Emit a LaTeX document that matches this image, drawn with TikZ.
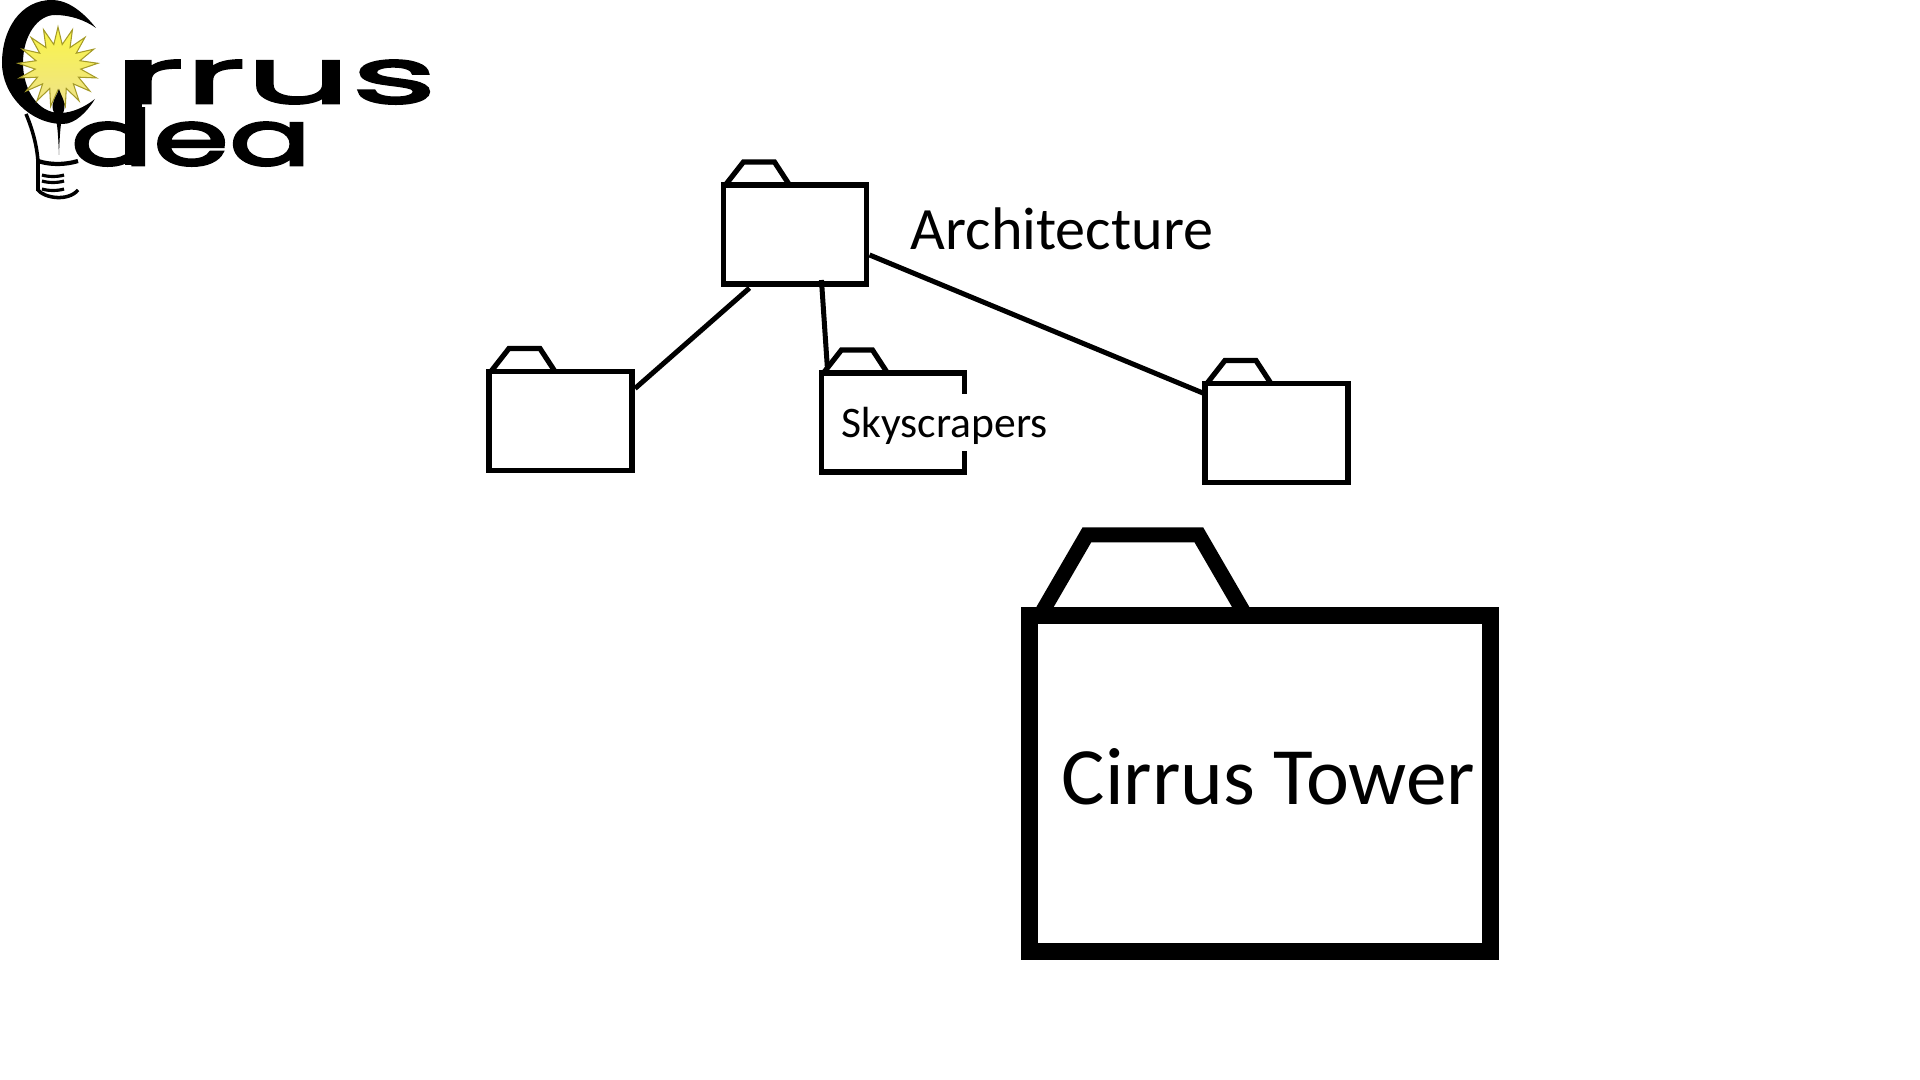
\documentclass[tikz,border=0pt]{standalone}
\usepackage{fontspec}
\setmainfont{Carlito}
\newfontfamily\logofont[FakeStretch=2.16,FakeBold=3.5]{Poppins}
\newfontfamily\logofontnarrow[FakeStretch=1.6,FakeBold=3.5]{Poppins}
\usetikzlibrary{shapes.geometric}
\definecolor{sunyellow}{RGB}{250,245,70}
\definecolor{suntan}{RGB}{238,226,140}
\definecolor{sunedge}{RGB}{165,155,40}
\tikzset{
    dirbox/.style={draw, line width=0.052cm, inner sep=0, outer sep=0, minimum width=1.43cm, minimum height=0.99cm},
    dirtab/.style={line width=0.052cm},
    dirlink/.style={line width=0.05cm},
    logotext/.style={anchor=base west, inner sep=0}
}
\begin{document}
\begin{tikzpicture}[x=0.01cm,y=-0.01cm]
    \useasboundingbox (0,0) rectangle (1920,1080);
    % logo
    \fill (96,28) .. controls (80,8) and (65,0) .. (52,0) .. controls (20,0) and (2,30) .. (2,63) .. controls (2,95) and (30,124) .. (63,124) .. controls (75,124) and (87,112) .. (95,99) .. controls (85,107) and (72,113) .. (60,113) .. controls (38,113) and (23,90) .. (23,63) .. controls (23,35) and (38,15) .. (55,15) .. controls (70,15) and (85,20) .. (96,28) -- cycle;
    \node (sun) [star, star points=17, star point ratio=1.75, minimum size=0.8cm, inner sep=0, draw=sunedge, line width=0.3pt, top color=sunyellow, bottom color=suntan] at (58,67) {};
    \fill (59,89) .. controls (62,98) and (66,102) .. (64,110) .. controls (62,118) and (60,122) .. (59,155) .. controls (58,130) and (57,118) .. (53,110) .. controls (51,102) and (56,98) .. (59,89) -- cycle;
    \draw [line width=1pt] (26,114) .. controls (32,128) and (37,145) .. (38,162);
    \draw [line width=1.2pt] (38,161) .. controls (50,165) and (65,165) .. (78,161);
    \draw [line width=1pt] (38,162) -- (38,190) .. controls (44,198) and (68,202) .. (78,190);
    \foreach \stripe in {175,181,189}
        \draw [line width=0.9pt] (42,\stripe) .. controls (48,\stripe+2) and (58,\stripe+2) .. (64,\stripe);
    \fill (125,60) rectangle (142,165);
    \node (logotop) [logotext, font=\logofont\fontsize{21.7}{22}\selectfont] at (122,103) {rrus};
    \node (logobottom) [logotext, font=\logofontnarrow\fontsize{21.7}{22}\selectfont] at (70,165) {dea};
    % folders
    \node (arch) [dirbox] at (795,234.5) {};
    \node (leftdir) [dirbox] at (560.5,421) {};
    \node (sky) [dirbox] at (893,422.5) {};
    \node (rightdir) [dirbox] at (1276.5,433) {};
    \foreach \dir in {arch,leftdir,sky,rightdir}
        \draw [dirtab] (\dir.north west) ++(2,0) -- ++(18,-23) -- ++(31,0) -- ++(15,23);
    \draw [dirlink] ([shift={(26,4)}]arch.south west) -- ([shift={(3,17)}]leftdir.north east);
    \draw [dirlink] ([shift={(98,-4)}]arch.south west) -- ([shift={(6,-4)}]sky.north west);
    \draw [dirlink] ([shift={(3,70)}]arch.north east) -- ([shift={(-1,10)}]rightdir.north west);
    \node (archlabel) [anchor=base west, inner sep=0, font=\fontsize{17.1}{20}\selectfont] at (910,250) {Architecture};
    \node (skylabel) [anchor=base west, inner sep=0, fill=white, text height=0.44cm, text depth=0.13cm, font=\fontsize{12.4}{15}\selectfont] at (841,438) {Skyscrapers};
    % big folder
    \node (tower) [draw, line width=0.17cm, inner sep=0, outer sep=0, minimum width=4.61cm, minimum height=3.355cm] at (1260,783.75) {};
    \draw [line width=0.15cm] ([shift={(10.5,0)}]tower.north west) -- ++(47,-81) -- ++(112,0) -- ++(47,81);
    \node (towerlabel) [anchor=base west, inner sep=0, font=\fontsize{23.15}{26}\selectfont] at (1061,805) {Cirrus Tower};
\end{tikzpicture}
\end{document}
